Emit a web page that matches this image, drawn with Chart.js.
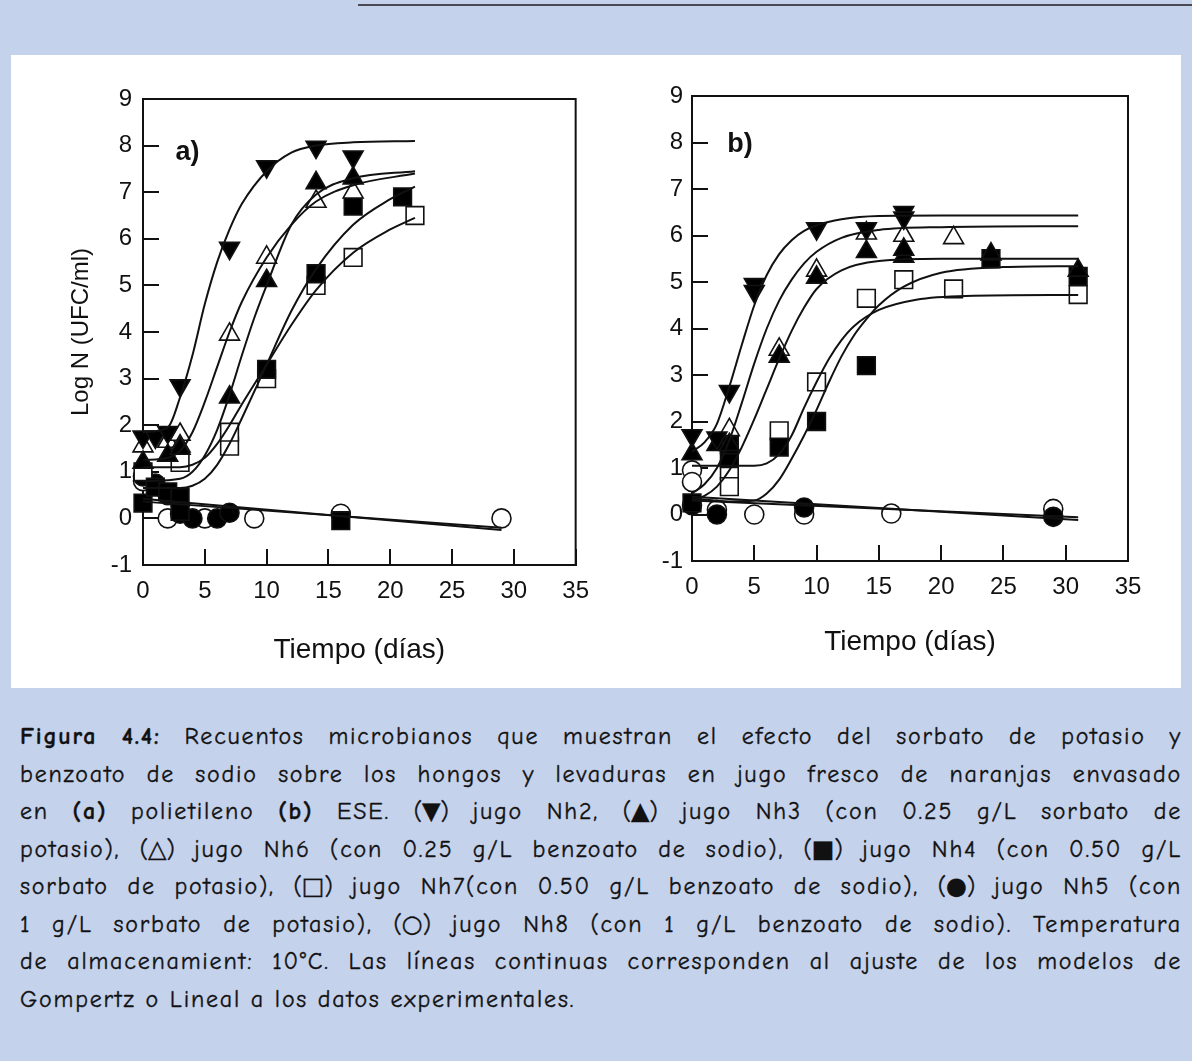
<!DOCTYPE html>
<html lang="es">
<head>
<meta charset="utf-8">
<title>Figura 4.4 - Recuentos microbianos</title>
<script src="https://cdn.jsdelivr.net/npm/chart.js@4.4.1/dist/chart.umd.min.js"></script>
<style>
  html, body { margin: 0; padding: 0; }
  body {
    width: 1192px; height: 1061px; position: relative; overflow: hidden;
    background: #c5d2ec;
  }
  #topline { position: absolute; left: 358px; top: 4px; width: 834px; height: 2px; background: #4a4a55; }
  #panel { position: absolute; left: 11px; top: 55px; width: 1170px; height: 633px; background: #fff; }
  canvas { position: absolute; }
  #plotA { left: 20px; top: 56px; }
  #plotB { left: 620px; top: 56px; }
  #caption {
    position: absolute; left: 20px; top: 718px; width: 1162px;
    font-family: "Comic Sans MS", "Comic Neue", "DejaVu Sans", sans-serif;
    font-size: 24px; letter-spacing: 1.8px; line-height: 37.5px; color: #111;
    -webkit-text-stroke: 0.35px #111;
  }
  #caption div { text-align: justify; text-align-last: justify; }
  #caption div.last { text-align-last: left; }
  #caption .sym { display: inline-block; letter-spacing: 0; }
</style>
</head>
<body>
<div id="topline"></div>
<div id="panel"></div>
<canvas id="plotA" width="597" height="611"></canvas>
<canvas id="plotB" width="560" height="603"></canvas>

<div id="caption">
  <div><b>Figura 4.4:</b> Recuentos microbianos que muestran el efecto del sorbato de potasio y</div>
  <div>benzoato de sodio sobre los hongos y levaduras en jugo fresco de naranjas envasado</div>
  <div>en <b>(a)</b> polietileno <b>(b)</b> ESE. <span class="sym">(<b>▼</b>)</span> jugo Nh2, <span class="sym">(<b>▲</b>)</span> jugo Nh3 (con 0.25 g/L sorbato de</div>
  <div>potasio), <span class="sym">(△)</span> jugo Nh6 (con 0.25 g/L benzoato de sodio), <span class="sym">(<b>■</b>)</span> jugo Nh4 (con 0.50 g/L</div>
  <div>sorbato de potasio), <span class="sym">(□)</span> jugo Nh7(con 0.50 g/L benzoato de sodio), <span class="sym">(<b>●</b>)</span> jugo Nh5 (con</div>
  <div>1 g/L sorbato de potasio), <span class="sym">(○)</span> jugo Nh8 (con 1 g/L benzoato de sodio). Temperatura</div>
  <div>de almacenamient: 10°C. Las líneas continuas corresponden al ajuste de los modelos de</div>
  <div class="last">Gompertz o Lineal a los datos experimentales.</div>
</div>

<script>
// ---- ejes ----
const xTicks = [0, 5, 10, 15, 20, 25, 30, 35];
const yTicks = [-1, 0, 1, 2, 3, 4, 5, 6, 7, 8, 9];

// ---- a) polietileno: recuentos (log UFC/ml) ----
const polNh2Dias = [0, 1, 2, 3, 7, 10, 14, 17];
const polNh2Log  = [1.75, 1.75, 1.85, 2.85, 5.8, 7.55, 7.97, 7.76];
const polNh3Dias = [0, 2, 3, 7, 10, 14, 17];
const polNh3Log  = [1.2, 1.35, 1.5, 2.6, 5.1, 7.2, 7.3];
const polNh6Dias = [0, 2, 3, 3, 7, 10, 14, 17];
const polNh6Log  = [1.55, 1.65, 1.8, 1.55, 3.95, 5.6, 6.8, 7.0];
const polNh4Dias = [0, 1, 2, 3, 3, 10, 14, 16, 17, 21];
const polNh4Log  = [0.33, 0.67, 0.57, 0.45, 0.15, 3.2, 5.25, -0.05, 6.7, 6.9];
const polNh7Dias = [0, 3, 7, 7, 10, 14, 17, 22];
const polNh7Log  = [1.0, 1.2, 1.55, 1.85, 3.0, 5.0, 5.6, 6.5];
const polNh5Dias = [0, 1, 2, 3, 4, 6, 7];
const polNh5Log  = [0.9, 0.75, 0.5, 0.1, 0.0, 0.0, 0.12];
const polNh8Dias = [0, 2, 5, 9, 16, 29];
const polNh8Log  = [0.8, 0.0, 0.0, 0.0, 0.1, 0.0];

// a) curvas ajustadas (Gompertz / lineal)
const polFitNh2Dias = [0, 2, 3, 4, 5, 6, 7, 8, 10, 12, 14, 17, 22];
const polFitNh2Log  = [1.85, 1.95, 2.6, 3.5, 4.6, 5.5, 6.2, 6.75, 7.45, 7.85, 8.0, 8.07, 8.1];
const polFitNh3Dias = [0, 3, 4, 5, 6, 7, 8, 9, 10, 12, 14, 17, 22];
const polFitNh3Log  = [0.8, 0.85, 1.0, 1.35, 1.9, 2.65, 3.5, 4.3, 5.0, 6.3, 6.95, 7.3, 7.45];
const polFitNh6Dias = [0, 2, 3, 4, 5, 6, 7, 8, 10, 12, 14, 17, 22];
const polFitNh6Log  = [1.25, 1.3, 1.45, 1.85, 2.5, 3.25, 4.0, 4.65, 5.6, 6.3, 6.8, 7.15, 7.4];
const polFitNh4Dias = [0, 3, 4, 5, 6, 7, 8, 10, 12, 14, 17, 20, 22];
const polFitNh4Log  = [0.65, 0.65, 0.7, 0.85, 1.15, 1.6, 2.15, 3.3, 4.45, 5.35, 6.3, 6.85, 7.12];
const polFitNh7Dias = [0, 3, 4, 5, 6, 7, 8, 10, 12, 14, 17, 20, 22];
const polFitNh7Log  = [1.1, 1.1, 1.15, 1.3, 1.6, 2.0, 2.45, 3.3, 4.15, 4.9, 5.7, 6.2, 6.45];
const polLinNh5Dias = [0, 29];
const polLinNh5Log  = [0.42, -0.25];
const polLinNh8Dias = [0, 29];
const polLinNh8Log  = [0.36, -0.2];

// ---- b) ESE: recuentos (log UFC/ml) ----
const eseNh2Dias = [0, 2, 3, 5, 5, 10, 14, 17, 17];
const eseNh2Log  = [1.7, 1.65, 2.65, 4.95, 4.8, 6.15, 6.15, 6.5, 6.38];
const eseNh3Dias = [0, 2, 3, 7, 10, 14, 17, 17, 24, 31];
const eseNh3Log  = [1.3, 1.5, 1.5, 3.4, 5.1, 5.65, 5.55, 5.7, 5.6, 5.25];
const eseNh6Dias = [3, 7, 10, 14, 17, 21];
const eseNh6Log  = [1.82, 3.55, 5.25, 6.05, 6.0, 5.95];
const eseNh4Dias = [0, 3, 3, 7, 10, 14, 24, 31];
const eseNh4Log  = [0.25, 1.2, 1.5, 1.45, 2.0, 3.2, 5.5, 5.12];
const eseNh7Dias = [3, 3, 7, 10, 14, 17, 21, 31];
const eseNh7Log  = [0.95, 0.6, 1.8, 2.85, 4.65, 5.05, 4.85, 4.73];
const eseNh5Dias = [0, 2, 9, 29];
const eseNh5Log  = [0.2, 0.0, 0.15, -0.05];
const eseNh8Dias = [0, 0, 2, 5, 9, 16, 29];
const eseNh8Log  = [0.95, 0.7, 0.1, 0.0, 0.0, 0.02, 0.12];

// b) curvas ajustadas
const eseFitDias    = [0, 1, 2, 3, 4, 5, 6, 7, 8, 9, 10, 12, 15, 20, 31];
const eseFitNh2Log  = [1.35, 1.55, 1.95, 2.75, 3.65, 4.5, 5.15, 5.6, 5.9, 6.1, 6.22, 6.35, 6.42, 6.43, 6.43];
const eseFitNh6Log  = [0.45, 0.65, 1.0, 1.6, 2.4, 3.25, 4.0, 4.6, 5.05, 5.4, 5.65, 5.95, 6.12, 6.18, 6.2];
const eseFitNh3Log  = [0.3, 0.4, 0.6, 0.95, 1.45, 2.05, 2.7, 3.35, 3.95, 4.45, 4.85, 5.25, 5.45, 5.5, 5.5];
const eseFitNh4Dias = [0, 3, 5, 6, 7, 8, 9, 10, 11, 12, 13, 14, 15, 17, 20, 25, 31];
const eseFitNh4Log  = [0.35, 0.28, 0.3, 0.45, 0.75, 1.2, 1.7, 2.25, 2.85, 3.4, 3.85, 4.2, 4.5, 4.9, 5.2, 5.32, 5.34];
const eseFitNh7Dias = [0, 5, 6, 7, 8, 9, 10, 11, 12, 13, 15, 18, 22, 31];
const eseFitNh7Log  = [1.05, 1.05, 1.1, 1.3, 1.7, 2.3, 2.85, 3.35, 3.75, 4.05, 4.4, 4.62, 4.7, 4.72];
const eseLinNh5Dias = [0, 31];
const eseLinNh5Log  = [0.38, -0.12];
const eseLinNh8Dias = [0, 31];
const eseLinNh8Log  = [0.3, -0.06];

const INK = '#111';
const pts = (dias, vals) => dias.map((d, i) => ({ x: d, y: vals[i] }));

// marker styles: ▼ ▲ △ ■ □ ● ○
const markers = {
  Nh2: { pointStyle: 'triangle', rotation: 180, radius: 11.5, filled: true },
  Nh3: { pointStyle: 'triangle', rotation: 0, radius: 11.5, filled: true },
  Nh6: { pointStyle: 'triangle', rotation: 0, radius: 11.5, filled: false },
  Nh4: { pointStyle: 'rect', rotation: 0, radius: 12.5, filled: true },
  Nh7: { pointStyle: 'rect', rotation: 0, radius: 12.5, filled: false },
  Nh5: { pointStyle: 'circle', rotation: 0, radius: 9.5, filled: true },
  Nh8: { pointStyle: 'circle', rotation: 0, radius: 9.5, filled: false }
};

function puntos(serie, dias, vals) {
  const m = markers[serie];
  return {
    type: 'scatter', label: serie, data: pts(dias, vals), order: 1, clip: false,
    pointStyle: m.pointStyle, rotation: m.rotation, pointRadius: m.radius,
    backgroundColor: m.filled ? '#000' : '#fff', borderColor: INK, borderWidth: 1.6,
    pointHoverRadius: m.radius
  };
}

function curva(dias, vals) {
  return {
    type: 'line', data: pts(dias, vals), order: 0, clip: false,
    borderColor: INK, borderWidth: 2, pointRadius: 0, fill: false,
    cubicInterpolationMode: 'monotone'
  };
}

// box around the plot area
const frame = {
  id: 'frame',
  beforeDatasetsDraw(chart) {
    const { ctx, chartArea: { left, top, right, bottom } } = chart;
    ctx.save();
    ctx.strokeStyle = INK;
    ctx.lineWidth = 2;
    ctx.strokeRect(left, top, right - left, bottom - top);
    ctx.restore();
  }
};

// "a)" / "b)" tag inside the plot
const panelTag = {
  id: 'panelTag',
  afterDraw(chart, args, opts) {
    const { ctx, scales: { x, y } } = chart;
    ctx.save();
    ctx.font = 'bold 27px "Liberation Sans", Arial, sans-serif';
    ctx.fillStyle = INK;
    ctx.textAlign = 'center';
    ctx.textBaseline = 'middle';
    ctx.fillText(opts.text, x.getPixelForValue(opts.x), y.getPixelForValue(opts.y));
    ctx.restore();
  }
};

const tickFont = { family: '"Liberation Sans", Arial, sans-serif', size: 24 };

function opciones(cfg) {
  return {
    responsive: false,
    animation: false,
    layout: { padding: cfg.padding },
    plugins: {
      legend: { display: false },
      tooltip: { enabled: false },
      panelTag: cfg.tag
    },
    scales: {
      x: {
        type: 'linear', min: xTicks[0], max: xTicks[xTicks.length - 1],
        afterBuildTicks: s => { s.ticks = xTicks.map(v => ({ value: v })); },
        afterFit: s => { s.height = cfg.xHeight; },
        ticks: { font: tickFont, color: INK, padding: 28 },
        grid: { drawOnChartArea: false, tickLength: -16, color: INK, lineWidth: 2 },
        border: { color: INK, width: 2 },
        title: {
          display: true, text: 'Tiempo (días)', color: INK, padding: 0,
          font: { family: '"Liberation Sans", Arial, sans-serif', size: 28 }
        }
      },
      y: {
        type: 'linear', min: yTicks[0], max: yTicks[yTicks.length - 1],
        afterBuildTicks: s => { s.ticks = yTicks.map(v => ({ value: v })); },
        afterFit: s => { s.width = cfg.yWidth; },
        ticks: { font: tickFont, color: INK, padding: cfg.yPad },
        grid: { drawOnChartArea: false, tickLength: -16, color: INK, lineWidth: 2 },
        border: { color: INK, width: 2 },
        title: {
          display: cfg.yTitle, text: 'Log N (UFC/ml)', color: INK, padding: 0,
          font: { family: '"Liberation Sans", Arial, sans-serif', size: 24 }
        }
      }
    }
  };
}

new Chart(document.getElementById('plotA'), {
  type: 'scatter',
  data: {
    datasets: [
      curva(polFitNh2Dias, polFitNh2Log),
      curva(polFitNh3Dias, polFitNh3Log),
      curva(polFitNh6Dias, polFitNh6Log),
      curva(polFitNh4Dias, polFitNh4Log),
      curva(polFitNh7Dias, polFitNh7Log),
      curva(polLinNh5Dias, polLinNh5Log),
      curva(polLinNh8Dias, polLinNh8Log),
      puntos('Nh2', polNh2Dias, polNh2Log),
      puntos('Nh3', polNh3Dias, polNh3Log),
      puntos('Nh6', polNh6Dias, polNh6Log),
      puntos('Nh4', polNh4Dias, polNh4Log),
      puntos('Nh7', polNh7Dias, polNh7Log),
      puntos('Nh5', polNh5Dias, polNh5Log),
      puntos('Nh8', polNh8Dias, polNh8Log)
    ]
  },
  options: opciones({
    padding: { left: 47, top: 43, right: 25, bottom: 0 },
    xHeight: 102, yWidth: 76, yPad: 27, yTitle: true,
    tag: { text: 'a)', x: 3.6, y: 7.85 }
  }),
  plugins: [frame, panelTag]
});

new Chart(document.getElementById('plotB'), {
  type: 'scatter',
  data: {
    datasets: [
      curva(eseFitDias, eseFitNh2Log),
      curva(eseFitDias, eseFitNh6Log),
      curva(eseFitDias, eseFitNh3Log),
      curva(eseFitNh4Dias, eseFitNh4Log),
      curva(eseFitNh7Dias, eseFitNh7Log),
      curva(eseLinNh5Dias, eseLinNh5Log),
      curva(eseLinNh8Dias, eseLinNh8Log),
      puntos('Nh2', eseNh2Dias, eseNh2Log),
      puntos('Nh3', eseNh3Dias, eseNh3Log),
      puntos('Nh6', eseNh6Dias, eseNh6Log),
      puntos('Nh4', eseNh4Dias, eseNh4Log),
      puntos('Nh7', eseNh7Dias, eseNh7Log),
      puntos('Nh5', eseNh5Dias, eseNh5Log),
      puntos('Nh8', eseNh8Dias, eseNh8Log)
    ]
  },
  options: opciones({
    padding: { left: 0, top: 40, right: 52, bottom: 0 },
    xHeight: 98, yWidth: 72, yPad: 25, yTitle: false,
    tag: { text: 'b)', x: 3.85, y: 7.95 }
  }),
  plugins: [frame, panelTag]
});
</script>
</body>
</html>
